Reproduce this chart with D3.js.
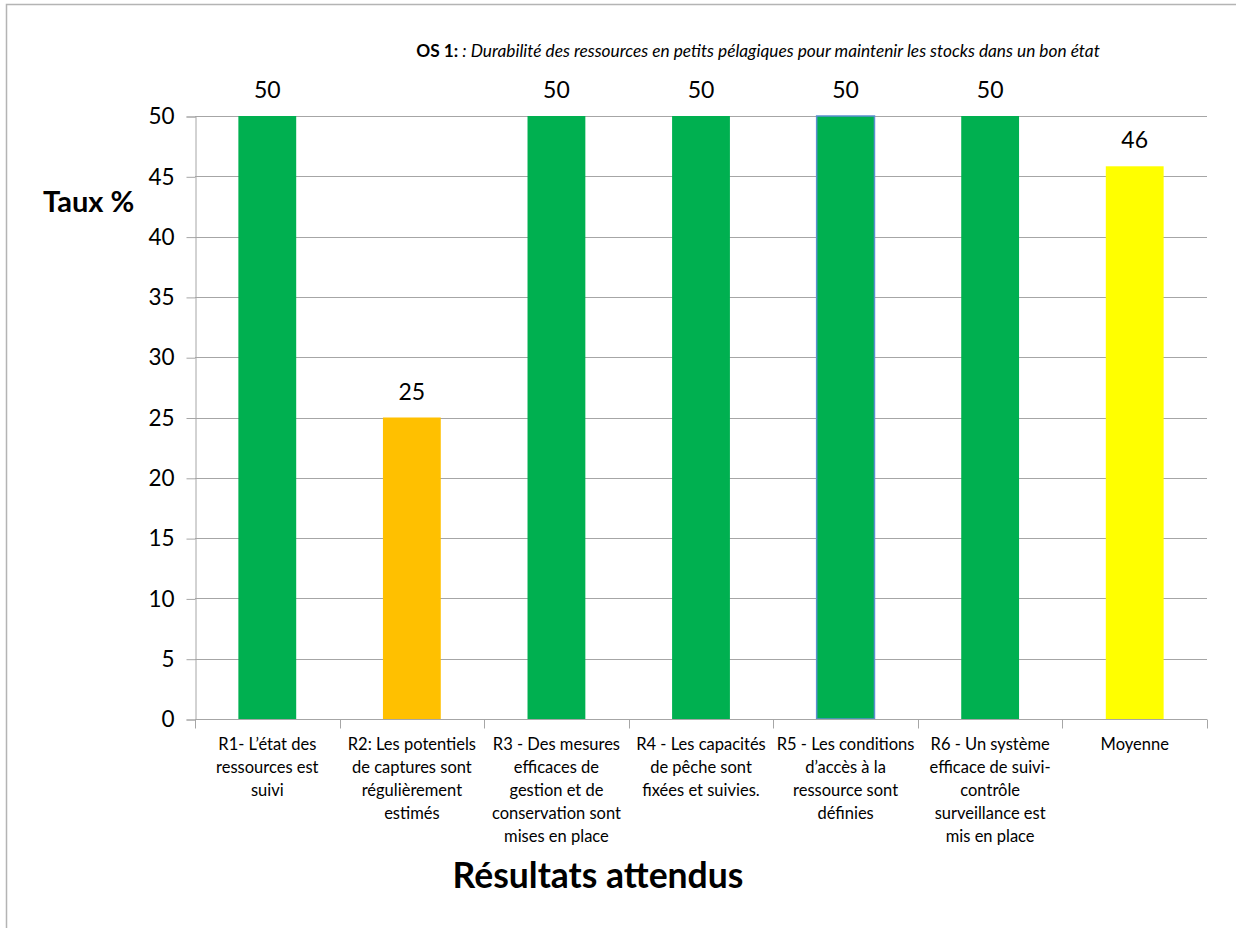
<!DOCTYPE html>
<html>
<head>
<meta charset="utf-8">
<script src="https://cdn.jsdelivr.net/npm/d3@7"></script>
<style>
  body { margin: 0; background: #fff; }
  svg { display: block; font-family: Lato, "Open Sans", sans-serif; }
</style>
</head>
<body>
<svg id="chart" width="1236" height="928"></svg>
<script>
'use strict';

// data
var categories = ["R1", "R2", "R3", "R4", "R5", "R6", "Moyenne"];
var categoryLabels = [
    ["R1- L\u2019\u00e9tat des", "ressources est", "suivi"],
    ["R2: Les potentiels", "de captures sont", "r\u00e9guli\u00e8rement", "estim\u00e9s"],
    ["R3 - Des mesures", "efficaces de", "gestion et de", "conservation sont", "mises en place"],
    ["R4 - Les capacit\u00e9s", "de p\u00eache sont", "fix\u00e9es et suivies."],
    ["R5 - Les conditions", "d\u2019acc\u00e8s \u00e0 la", "ressource sont", "d\u00e9finies"],
    ["R6 - Un syst\u00e8me", "efficace de suivi-", "contr\u00f4le", "surveillance est", "mis en place"],
    ["Moyenne"]
];
var values = [50, 25, 50, 50, 50, 50, 45.83];
var barColors = ["#00B050", "#FFC000", "#00B050", "#00B050", "#00B050", "#00B050", "#FFFF00"];
var yTicks = [0, 5, 10, 15, 20, 25, 30, 35, 40, 45, 50];

var svg = d3.select("#chart");

// outer chart frame (only the left and top edges show)
svg.append("path")
   .attr("d", "M6.5,928 V4.5 H1236")
   .attr("fill", "none")
   .attr("stroke", "#b4b4b4")
   .attr("stroke-width", 1.5);

var margin = {left: 195, right: 1207, top: 116, bottom: 719};

var x = d3.scaleBand()
          .domain(categories)
          .range([margin.left, margin.right])
          .paddingInner(0.6)
          .paddingOuter(0.3);

var y = d3.scaleLinear()
          .domain([0, 50])
          .range([margin.bottom, margin.top]);

// gridlines
svg.append("g")
   .selectAll("line")
   .data(yTicks)
   .enter()
   .append("line")
   .attr("x1", margin.left)
   .attr("x2", margin.right)
   .attr("y1", d => Math.round(y(d)) + 0.5)
   .attr("y2", d => Math.round(y(d)) + 0.5)
   .attr("stroke", "#a6a6a6")
   .attr("stroke-width", 1);

// y axis
var yAxis = svg.append("g")
   .attr("transform", "translate(" + (margin.left + 0.5) + ",0.5)")
   .call(d3.axisLeft(y).tickValues(yTicks).tickSize(9).tickPadding(12));
yAxis.select(".domain").attr("stroke", "#a6a6a6");
yAxis.selectAll(".tick line").attr("stroke", "#a6a6a6");
yAxis.selectAll("text")
     .attr("font-size", 22.5)
     .attr("fill", "#000")
     .attr("font-family", "Lato, sans-serif");

// bars
svg.append("g")
   .selectAll("rect")
   .data(values)
   .enter()
   .append("rect")
   .attr("x", (d, i) => x(categories[i]))
   .attr("y", d => y(d))
   .attr("width", x.bandwidth())
   .attr("height", d => y(0) - y(d))
   .attr("fill", (d, i) => barColors[i])
   .attr("stroke", (d, i) => i == 4 ? "#5b8fd0" : "none")
   .attr("stroke-width", 1.5);

// value labels
svg.append("g")
   .selectAll("text")
   .data(values)
   .enter()
   .append("text")
   .attr("x", (d, i) => x(categories[i]) + x.bandwidth() / 2)
   .attr("y", d => y(d) - 18)
   .attr("text-anchor", "middle")
   .attr("font-size", 23)
   .attr("fill", "#000")
   .text(d => d3.format(".0f")(d));

// x axis
var bandStep = (margin.right - margin.left) / categories.length;
var xAxis = svg.append("g")
   .attr("transform", "translate(0," + (margin.bottom + 0.5) + ")");
xAxis.append("line")
     .attr("x1", margin.left)
     .attr("x2", margin.right)
     .attr("stroke", "#a6a6a6");
xAxis.selectAll(".tick")
     .data(d3.range(categories.length + 1))
     .enter()
     .append("line")
     .attr("x1", i => Math.round(margin.left + i * bandStep) + 0.5)
     .attr("x2", i => Math.round(margin.left + i * bandStep) + 0.5)
     .attr("y1", 0)
     .attr("y2", 9)
     .attr("stroke", "#a6a6a6");

var labels = xAxis.selectAll(".cat")
     .data(categoryLabels)
     .enter()
     .append("text")
     .attr("class", "cat")
     .attr("text-anchor", "middle")
     .attr("font-size", 16.5)
     .attr("fill", "#000")
     .attr("transform", (d, i) => "translate(" + (x(categories[i]) + x.bandwidth() / 2) + ",30)");
labels.selectAll("tspan")
      .data(d => d)
      .enter()
      .append("tspan")
      .attr("x", 0)
      .attr("y", (d, i) => i * 23)
      .text(d => d);

// y axis title
svg.append("text")
   .attr("x", 43)
   .attr("y", 212)
   .attr("font-size", 29)
   .attr("font-weight", "bold")
   .text("Taux %");

// x axis title
svg.append("text")
   .attr("x", 598)
   .attr("y", 888)
   .attr("text-anchor", "middle")
   .attr("font-size", 35.5)
   .attr("font-weight", "bold")
   .text("R\u00e9sultats attendus");

// chart title
var title = svg.append("text")
   .attr("x", 758)
   .attr("y", 57)
   .attr("text-anchor", "middle")
   .attr("font-size", 17.3);
title.append("tspan").attr("font-weight", "bold").text("OS 1:");
title.append("tspan").attr("font-style", "italic")
     .text(" : Durabilit\u00e9 des ressources en petits p\u00e9lagiques pour maintenir les stocks dans un bon \u00e9tat");
</script>
</body>
</html>
